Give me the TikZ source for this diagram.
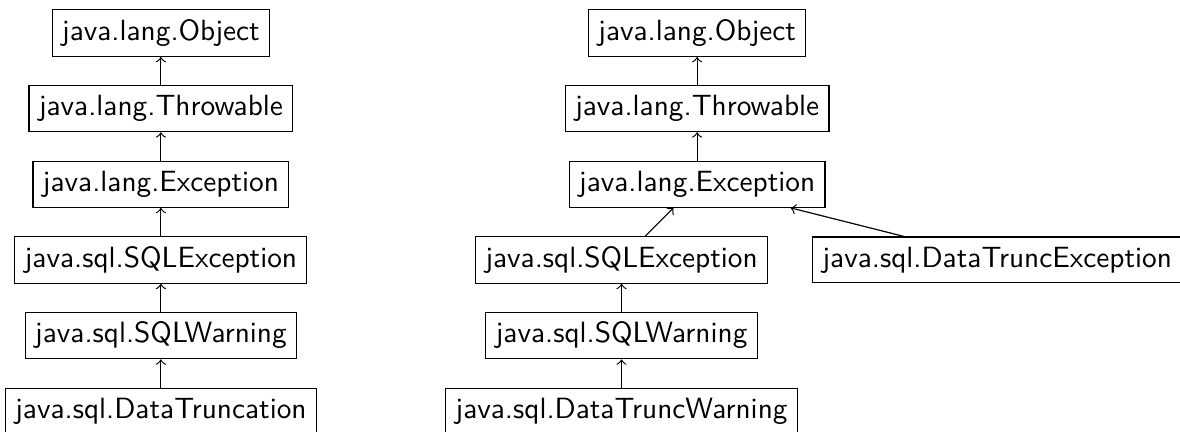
\documentclass[tikz,border=0pt]{standalone}
\usepackage{tikz}

\begin{document}
\begin{tikzpicture}[x=1pt,y=1pt,>=to,
    cls/.style={draw,font=\sffamily}]
    \useasboundingbox (0,0) rectangle (402.7,-147.4);
    \begin{scope}
      \foreach \name [count=\i] in {java.lang.Object,java.lang.Throwable,
          java.lang.Exception,java.sql.SQLException,java.sql.SQLWarning,
          java.sql.DataTruncation}{
        \node[cls] (l\i) at (54.9,{-11.3-25.8*(\i-1)}) {\name};
      }
      \foreach \i [evaluate=\i as \j using int(\i+1)] in {1,...,5}{
        \draw[->] (l\j) -- (l\i);
      }
    \end{scope}
    \begin{scope}
      \node[cls] (obj) at (237.9,-11.3) {java.lang.Object};
      \node[cls] (thr) at (237.9,-37.1) {java.lang.Throwable};
      \node[cls] (exc) at (237.9,-62.9) {java.lang.Exception};
      \node[cls] (sqlexc) at (212.1,-88.7) {java.sql.SQLException};
      \node[cls] (dtexc) at (340.3,-88.7) {java.sql.DataTruncException};
      \node[cls] (sqlwarn) at (212.1,-114.5) {java.sql.SQLWarning};
      \node[cls] (dtwarn) at (212.1,-140.3) {java.sql.DataTruncWarning};
      \draw[->] (thr) -- (obj);
      \draw[->] (exc) -- (thr);
      \draw[->] (sqlexc) -- (exc);
      \draw[->] (dtexc) -- (exc);
      \draw[->] (sqlwarn) -- (sqlexc);
      \draw[->] (dtwarn) -- (sqlwarn);
    \end{scope}
  \end{tikzpicture}
\end{document}
